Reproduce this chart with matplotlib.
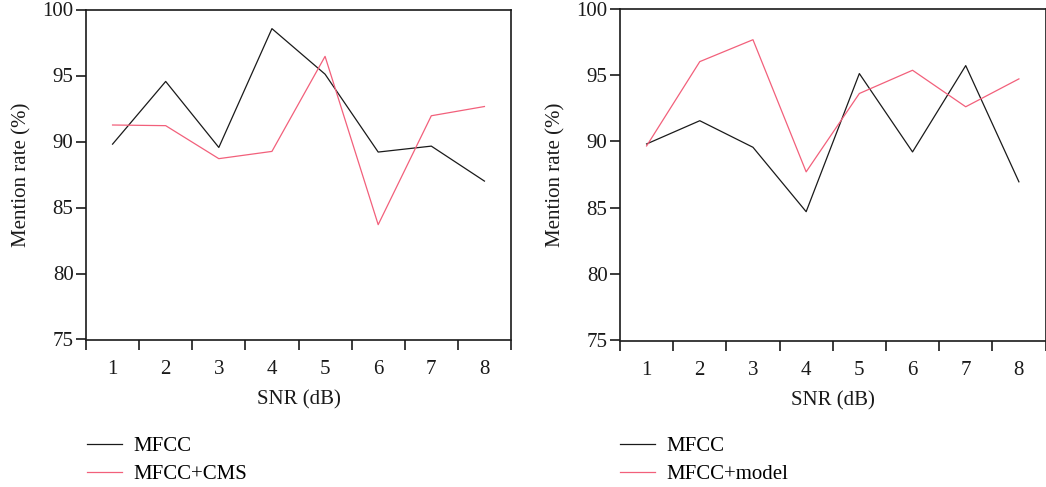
import matplotlib
matplotlib.use("Agg")
import matplotlib.pyplot as plt
import numpy as np

snr = [1, 2, 3, 4, 5, 6, 7, 8]

# left panel
mfcc_left = [89.8, 94.55, 89.55, 98.55, 95.1, 89.2, 89.65, 87.0]
mfcc_cms = [91.25, 91.2, 88.7, 89.25, 96.45, 83.7, 91.95, 92.65]

# right panel
mfcc_right = [89.8, 91.55, 89.55, 84.7, 95.1, 89.2, 95.7, 86.95]
mfcc_model = [89.65, 96.0, 97.65, 87.7, 93.6, 95.35, 92.6, 94.7]

y_ticks = [75, 80, 85, 90, 95, 100]

BLACK = "#1a1a1a"
PINK = "#f2607b"
FS = 15

plt.rcParams["font.family"] = ["Liberation Serif", "DejaVu Serif"]
plt.rcParams["font.size"] = FS

W, H = 1046, 487
fig = plt.figure(figsize=(W / 100, H / 100), dpi=100)


def setup_axes(ax):
    ax.set_xlim(0.5, 8.5)
    ax.set_ylim(75, 100)
    ax.set_yticks(y_ticks)
    # ticks sit between categories, labels under the points
    ax.set_xticks(np.arange(0.5, 9.0, 1.0))
    ax.set_xticklabels([])
    ax.set_xticks(snr, minor=True)
    ax.set_xticklabels([str(s) for s in snr], minor=True)
    ax.tick_params(axis="x", which="major", direction="out", length=7, width=1.2, color=BLACK)
    ax.tick_params(axis="x", which="minor", length=0, pad=15, labelsize=FS, labelcolor=BLACK)
    ax.tick_params(axis="y", direction="out", length=7, width=1.2, pad=2, labelsize=FS,
                   color=BLACK, labelcolor=BLACK)
    for sp in ax.spines.values():
        sp.set_linewidth(1.2)
        sp.set_color(BLACK)
    ax.set_xlabel("SNR (dB)", fontsize=FS, color=BLACK, labelpad=8)
    ax.set_ylabel("Mention rate (%)", fontsize=FS, color=BLACK, labelpad=8)


def add_legend(ax, x_px):
    ax.legend(loc="upper left", bbox_to_anchor=(x_px / W, 1 - 428 / H),
              bbox_transform=fig.transFigure, frameon=False, fontsize=FS,
              handlelength=1.65, handletextpad=0.55, labelspacing=0.4, borderaxespad=0)


ax1 = fig.add_axes([86 / W, 1 - 339.5 / H, 425 / W, 330 / H])
ax1.plot(snr, mfcc_left, color=BLACK, lw=0.9, label="MFCC")
ax1.plot(snr, mfcc_cms, color=PINK, lw=0.9, label="MFCC+CMS")
setup_axes(ax1)
add_legend(ax1, 79)

ax2 = fig.add_axes([620 / W, 1 - 340.5 / H, 425.5 / W, 332 / H])
ax2.plot(snr, mfcc_right, color=BLACK, lw=0.9, label="MFCC")
ax2.plot(snr, mfcc_model, color=PINK, lw=0.9, label="MFCC+model")
setup_axes(ax2)
add_legend(ax2, 612)

fig.savefig("out.png", dpi=100)
